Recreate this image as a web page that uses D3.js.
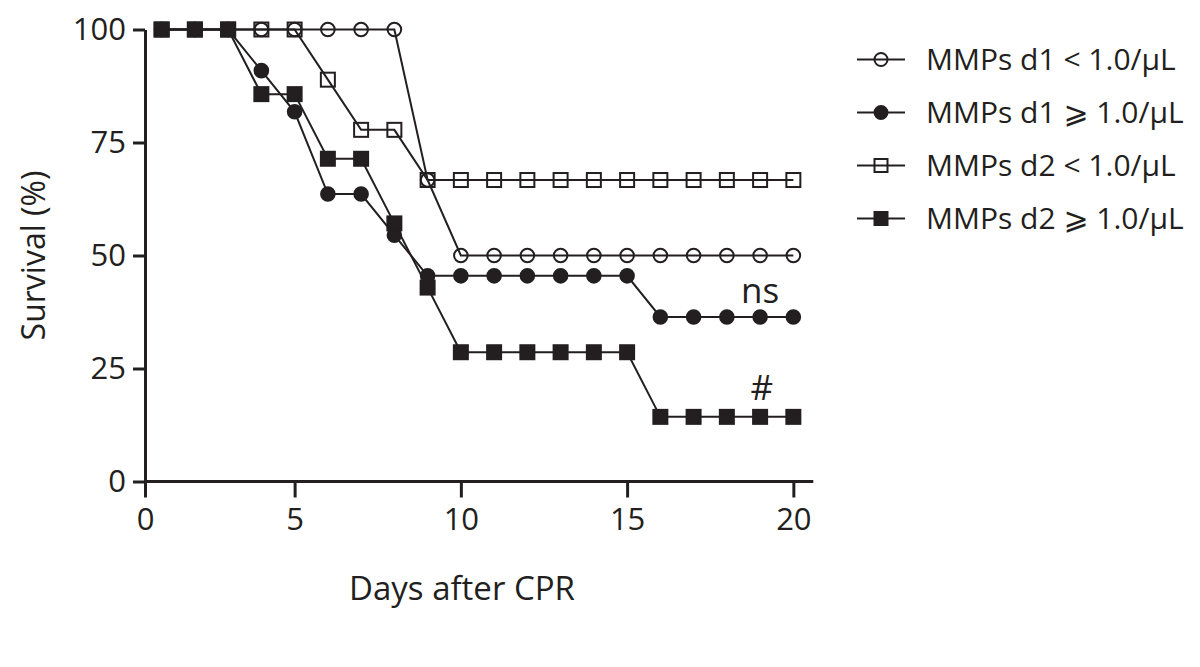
<!DOCTYPE html>
<html>
<head>
<meta charset="utf-8">
<script src="https://cdn.jsdelivr.net/npm/d3@7"></script>
<style>
  html, body { margin: 0; padding: 0; background: #fff; }
  svg { display: block; }
  text { font-family: "Open Sans", "DejaVu Sans", sans-serif; fill: #231f20; }
</style>
</head>
<body>
<svg id="chart" width="1200" height="667"></svg>
<script>
// ---- data ----
const days = [1,2,3,4,5,6,7,8,9,10,11,12,13,14,15,16,17,18,19,20];
const d1Low  = [100,100,100,100,100,100,100,100,66.7,50,50,50,50,50,50,50,50,50,50,50];
const d1High = [100,100,100,90.9,81.8,63.6,63.6,54.5,45.5,45.5,45.5,45.5,45.5,45.5,45.5,36.4,36.4,36.4,36.4,36.4];
const d2Low  = [100,100,100,100,100,88.9,77.8,77.8,66.7,66.7,66.7,66.7,66.7,66.7,66.7,66.7,66.7,66.7,66.7,66.7];
const d2High = [100,100,100,85.7,85.7,71.4,71.4,57.1,42.9,28.6,28.6,28.6,28.6,28.6,28.6,14.3,14.3,14.3,14.3,14.3];
const seriesNames = ["MMPs d1 < 1.0/\u00b5L", "MMPs d1 \u2A7E 1.0/\u00b5L", "MMPs d2 < 1.0/\u00b5L", "MMPs d2 \u2A7E 1.0/\u00b5L"];
const xTicks = [0.5, 5, 10, 15, 20];
const xTickLabels = ["0", "5", "10", "15", "20"];
const yTicks = [0, 25, 50, 75, 100];
const annotations = [{text: "ns", day: 19, value: 39.5}, {text: "#", day: 19.05, value: 18}];

const ink = "#231f20";
const svg = d3.select("#chart");

const x = d3.scaleLinear().domain([0.5, 20.6]).range([145, 813.3]);
const y = d3.scaleLinear().domain([0, 100]).range([481.5, 29.5]);

// axes
const yAxis = d3.axisLeft(y).tickValues(yTicks).tickSize(12).tickSizeOuter(0).tickPadding(7);
const gy = svg.append("g").attr("transform", `translate(${x(0.5)},0)`).call(yAxis);
const xAxis = d3.axisBottom(x).tickValues(xTicks).tickFormat((d, i) => xTickLabels[i])
  .tickSize(16).tickSizeOuter(0).tickPadding(10);
const gx = svg.append("g").attr("transform", `translate(0,${y(0)})`).call(xAxis);
[gx, gy].forEach(g => {
  g.select(".domain").attr("stroke", ink).attr("stroke-width", 3);
  g.selectAll(".tick line").attr("stroke", ink).attr("stroke-width", 3);
  g.selectAll(".tick text").attr("font-size", 31).attr("fill", ink)
    .attr("font-family", "'Open Sans', sans-serif");
});
gx.select(".domain").attr("d", `M${x(0.5)},0H${x(20.6)}`);

// axis titles
svg.append("text").attr("transform", `translate(45,${(y(0)+y(100))/2}) rotate(-90)`)
  .attr("text-anchor", "middle").attr("font-size", 32).text("Survival (%)");
svg.append("text").attr("x", 462).attr("y", 600)
  .attr("text-anchor", "middle").attr("font-size", 33).text("Days after CPR");

// series
const series = [
  {vals: d1Low,  shape: "circle", fill: false},
  {vals: d1High, shape: "circle", fill: true},
  {vals: d2Low,  shape: "square", fill: false},
  {vals: d2High, shape: "square", fill: true}
];
const line = d3.line().x(d => x(d[0])).y(d => y(d[1]));

function drawMarker(g, shape, fill, cx, cy, size) {
  if (shape === "circle") {
    g.append("circle").attr("cx", cx).attr("cy", cy).attr("r", size)
      .attr("fill", fill ? ink : "none").attr("stroke", ink).attr("stroke-width", 2);
  } else {
    g.append("rect").attr("x", cx - size).attr("y", cy - size)
      .attr("width", size * 2).attr("height", size * 2)
      .attr("fill", fill ? ink : "none").attr("stroke", ink).attr("stroke-width", 2);
  }
}

series.forEach(s => {
  const pts = days.map((d, i) => [d, s.vals[i]]);
  svg.append("path").datum(pts).attr("d", line)
    .attr("fill", "none").attr("stroke", ink).attr("stroke-width", 2);
});
series.forEach(s => {
  const g = svg.append("g");
  days.forEach((d, i) => drawMarker(g, s.shape, s.fill, x(d), y(s.vals[i]), s.shape === "circle" ? 6.8 : 7));
});

// annotations
annotations.forEach(a => {
  svg.append("text").attr("x", x(a.day)).attr("y", y(a.value))
    .attr("text-anchor", "middle").attr("font-size", 35).text(a.text);
});

// legend
const legY = [59.5, 112.5, 165.5, 218.5];
series.forEach((s, i) => {
  const g = svg.append("g").attr("transform", `translate(0,${legY[i]})`);
  g.append("line").attr("x1", 857).attr("x2", 905).attr("y1", 0).attr("y2", 0)
    .attr("stroke", ink).attr("stroke-width", 2);
  drawMarker(g, s.shape, s.fill, 881, 0, 6.5);
  g.append("text").attr("x", 926).attr("y", 0).attr("dy", "0.36em")
    .attr("font-size", 30).text(seriesNames[i]);
});
</script>
</body>
</html>
